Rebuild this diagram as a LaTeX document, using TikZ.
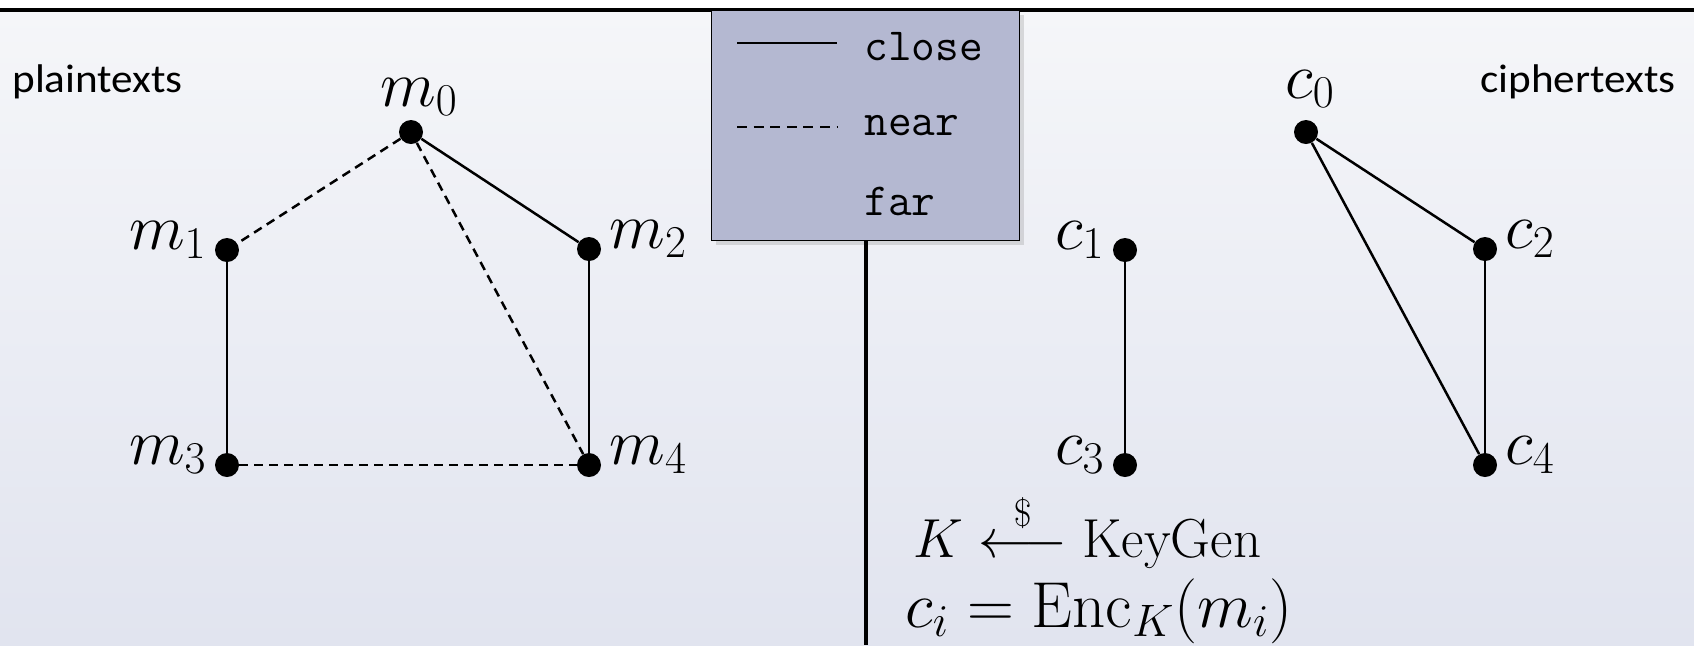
\RequirePackage{fix-cm}
\documentclass[tikz,border=0pt]{standalone}
\usepackage{amsmath}
\usepackage{fontspec}
\newfontfamily\calibri{Carlito}
\usetikzlibrary{shadows}
\definecolor{bgtop}{HTML}{F5F6F9}
\definecolor{bgbot}{HTML}{E1E4EF}
\definecolor{legfill}{HTML}{B4B8D1}
\tikzset{
  dot/.style={circle, fill=black, minimum size=12pt, inner sep=0pt},
  closeedge/.style={line width=1.25pt},
  nearedge/.style={line width=1.25pt, dash pattern=on 4.5pt off 3pt},
  mlbl/.style={inner sep=0pt, font=\fontsize{32.5}{38}\selectfont},
  ttlbl/.style={inner sep=0pt, anchor=base west, font=\fontsize{23}{27}\selectfont\ttfamily},
  sidelbl/.style={inner sep=0pt, font=\fontsize{20}{24}\selectfont\calibri},
  legendbox/.style={draw, fill=legfill, line width=0.6pt, anchor=north west,
    minimum width=154pt, minimum height=115pt, inner sep=0pt,
    drop shadow={opacity=0.25, shadow xshift=2pt, shadow yshift=-2pt}},
  rule/.style={line width=2.2pt},
}
\begin{document}
\begin{tikzpicture}[x=0.5pt,y=-0.5pt]
\useasboundingbox (0,0) rectangle (1694,645);
\fill[white] (0,0) rectangle (1694,645);
\shade[top color=bgtop, bottom color=bgbot] (0,10) rectangle (1694,645);

% top rule
\coordinate (tl) at (0,10);
\coordinate (tr) at (1694,10);
\draw[rule] (tl) -- (tr);

% legend box
\node[legendbox] (legend) at (711,10) {};
\coordinate (bottom) at (0,645);
\draw[line width=2pt] (legend.south) -- (legend.south |- bottom);

\coordinate (l1a) at (737,43);
\coordinate (l1b) at (837,43);
\draw[closeedge] (l1a) -- (l1b);
\node[ttlbl] (tclose) at (864,60) {close};
\coordinate (l2a) at (737,127);
\coordinate (l2b) at (837,127);
\draw[line width=1.2pt, dash pattern=on 5pt off 3.3pt] (l2a) -- (l2b);
\node[ttlbl] (tnear) at (864,135) {near};
\node[ttlbl] (tfar) at (864,215) {far};

% side labels
\node[sidelbl, anchor=base west] (pt) at (12,92) {\scalebox{1.08}[1]{plaintexts}};
\node[sidelbl, anchor=base east] (ct) at (1676,92) {\scalebox{1.08}[1]{ciphertexts}};

% plaintext dots
\node[dot] (m0) at (411,132) {};
\node[dot] (m1) at (227,250) {};
\node[dot] (m2) at (589,249) {};
\node[dot] (m3) at (227,465) {};
\node[dot] (m4) at (589,465) {};

\node[mlbl, anchor=base] (m0l) at ([xshift=4pt, yshift=13pt]m0.center) {$m_0$};
\node[mlbl, anchor=base east] (m1l) at ([xshift=-10pt, yshift=0.5pt]m1.center) {$m_1$};
\node[mlbl, anchor=base west] (m2l) at ([xshift=10pt, yshift=0.5pt]m2.center) {$m_2$};
\node[mlbl, anchor=base east] (m3l) at ([xshift=-10pt, yshift=0.5pt]m3.center) {$m_3$};
\node[mlbl, anchor=base west] (m4l) at ([xshift=10pt, yshift=0.5pt]m4.center) {$m_4$};

\draw[nearedge] (m0) -- (m1);
\draw[closeedge] (m0) -- (m2);
\draw[nearedge] (m0) -- (m4);
\draw[closeedge] (m1) -- (m3);
\draw[closeedge] (m2) -- (m4);
\draw[nearedge] (m3) -- (m4);

% ciphertext dots
\node[dot] (c0) at (1306,132) {};
\node[dot] (c1) at (1125,250) {};
\node[dot] (c2) at (1485,249) {};
\node[dot] (c3) at (1125,465) {};
\node[dot] (c4) at (1485,465) {};

\node[mlbl, anchor=base] (c0l) at ([xshift=2pt, yshift=17pt]c0.center) {$c_0$};
\node[mlbl, anchor=base east] (c1l) at ([xshift=-10pt, yshift=0.5pt]c1.center) {$c_1$};
\node[mlbl, anchor=base west] (c2l) at ([xshift=10pt, yshift=0.5pt]c2.center) {$c_2$};
\node[mlbl, anchor=base east] (c3l) at ([xshift=-10pt, yshift=0.5pt]c3.center) {$c_3$};
\node[mlbl, anchor=base west] (c4l) at ([xshift=10pt, yshift=0.5pt]c4.center) {$c_4$};

\draw[closeedge] (c0) -- (c2);
\draw[closeedge] (c0) -- (c4);
\draw[closeedge] (c2) -- (c4);
\draw[closeedge] (c1) -- (c3);

% equations
\node[inner sep=0pt, anchor=base west, font=\fontsize{27.5}{32}\selectfont] (eq1) at (913,557)
  {$K \stackrel{\$}{\longleftarrow} \mathrm{KeyGen}$};
\node[inner sep=0pt, anchor=base west, font=\fontsize{32.5}{38}\selectfont] (eq2) at (905,627)
  {$c_i = \mathrm{Enc}_K(m_i)$};
\end{tikzpicture}
\end{document}
